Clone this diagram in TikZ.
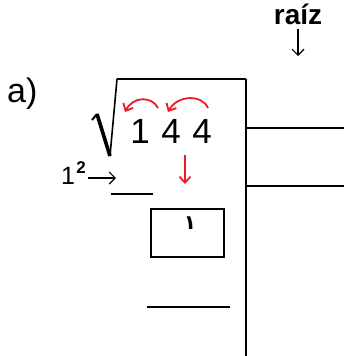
\documentclass[tikz,border=0pt]{standalone}
\usepackage{fontspec}
\setmainfont{Liberation Sans}
\newfontfamily\arabicfont[Script=Arabic]{DejaVu Sans}
\TeXXeTstate=1
\usetikzlibrary{arrows.meta}
\definecolor{myred}{RGB}{237,28,36}
\tikzset{
  mainline/.style={line width=2.4pt, black},
  thinbox/.style={draw, line width=1.3pt},
  redarrow/.style={myred, line width=1.8pt, -{Straight Barb[length=6pt,width=11pt,line width=1.8pt]}},
  blackarrow/.style={black, line width=1.2pt, -{Straight Barb[length=6pt,width=12pt,line width=1.2pt]}},
  digit/.style={inner sep=0pt, anchor=base, font=\fontsize{35}{40}\selectfont},
}
\begin{document}
\begin{tikzpicture}[x=1pt,y=-1pt]
\useasboundingbox (0,0) rectangle (344,356);
% label a)
\node[inner sep=0pt, anchor=base west, font=\fontsize{34}{40}\selectfont] (lab) at (7,102) {a)};
% raiz
\node[inner sep=0pt, anchor=base, font=\fontsize{28}{30}\bfseries] (raiz) at (298,24) {raíz};
\coordinate (raizarrow) at (298,56);
\draw[blackarrow] (298,29) -- (raizarrow);
% radical
\coordinate (r1) at (92,120);
\coordinate (r2) at (97,114);
\coordinate (r3) at (110,156);
\coordinate (r4) at (117,79);
\coordinate (topR) at (246,79);
\draw[line width=2pt] (r1) -- (r2);
\draw[line width=3.6pt] (r2) -- (r3);
\draw[line width=1.6pt] (r3) -- (r4);
\draw[mainline] (116.5,79) -- (topR);
% vertical line and right lines
\coordinate (bottomR) at (246,356);
\draw[mainline] (topR) -- (bottomR);
\coordinate (h1a) at (246,128);
\coordinate (h1b) at (344,128);
\coordinate (h2a) at (246,186);
\coordinate (h2b) at (344,186);
\draw[mainline] (h1a) -- (h1b);
\draw[mainline] (h2a) -- (h2b);
% digits
\node[digit] (d1) at (140,143) {1};
\node[digit] (d2) at (171,143) {4};
\node[digit] (d3) at (202,143) {4};
% red curved arrows
\coordinate (a1s) at (158,108);
\coordinate (a1e) at (125,112);
\coordinate (a2s) at (208,108);
\coordinate (a2e) at (168,112);
\draw[redarrow] (a1s) .. controls (152,96) and (133,96) .. (a1e);
\draw[redarrow] (a2s) .. controls (202,94) and (177,95) .. (a2e);
% red down arrow
\coordinate (dA) at (185,155);
\coordinate (dB) at (185,184);
\draw[redarrow] (dA) -- (dB);
% 1^2
\node[inner sep=0pt, anchor=base, font=\fontsize{25}{30}\selectfont] (one) at (68,184) {1};
\node[inner sep=0pt, anchor=base, font=\fontsize{17}{20}\bfseries] (sq) at (81,173) {2};
\coordinate (sqarrow) at (116,178);
\draw[blackarrow] (88,178) -- (sqarrow);
% short line
\coordinate (s1) at (111,194);
\coordinate (s2) at (153,194);
\draw[mainline] (s1) -- (s2);
% box
\node[thinbox, minimum width=73pt, minimum height=48pt, inner sep=0pt] (box) at (187.5,233) {};
\node[inner sep=0pt, anchor=base, font=\arabicfont\bfseries\fontsize{20}{24}\selectfont] (ar) at (190,229) {\beginR ١\endR};
% bottom line
\coordinate (b1) at (147,307);
\coordinate (b2) at (230,307);
\draw[mainline] (b1) -- (b2);
\end{tikzpicture}
\end{document}
